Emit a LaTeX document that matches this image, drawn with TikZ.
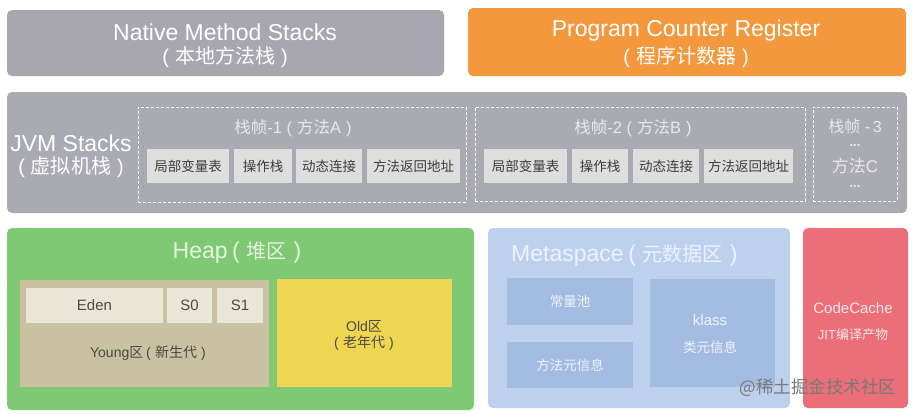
\documentclass[tikz,border=0pt]{standalone}
\usepackage{fontspec}
\setmainfont{Liberation Sans}
\newfontfamily\cjk{Noto Sans CJK SC}
\usetikzlibrary{fit}
\definecolor{natgray}{HTML}{A8A7AF}
\definecolor{jvmgray}{HTML}{AAAAB2}
\definecolor{cellgray}{HTML}{DEDEDE}
\definecolor{pcorange}{HTML}{F4983E}
\definecolor{heapgreen}{HTML}{7FC874}
\definecolor{youngtan}{HTML}{C9C1A2}
\definecolor{edenlight}{HTML}{E9E5D7}
\definecolor{oldyellow}{HTML}{EFD652}
\definecolor{metablue}{HTML}{BDD0EE}
\definecolor{metacell}{HTML}{A4BBE2}
\definecolor{codered}{HTML}{EB6E78}
\definecolor{celltext}{HTML}{3C3C3C}
\definecolor{frametext}{HTML}{E8E8EC}
\definecolor{youngtext}{HTML}{4A4A42}
\definecolor{heaptitle}{HTML}{E6F6DE}
\definecolor{metatext}{HTML}{EEF3FB}
\definecolor{codetext}{HTML}{FCE8EA}
\definecolor{marktext}{HTML}{7A7A7A}
\newcommand{\pcj}[1]{(\hspace{0.3em}{\cjk #1}\hspace{0.3em})}
\begin{document}
\begin{tikzpicture}[x=1pt,y=-1pt,
  region/.style={rounded corners=5pt, inner sep=0pt, draw=none},
  cell/.style={inner sep=0pt, draw=none},
  dashframe/.style={draw=white, dashed, dash pattern=on 3pt off 2pt, line width=0.9pt, inner sep=0pt},
  bigtext/.style={text=white, font=\fontsize{23}{25}\selectfont, align=center, inner sep=0pt},
  cjkbig/.style={text=white, font=\fontsize{20}{25}\selectfont, align=center, inner sep=0pt},
  frametitle/.style={text=frametext, font=\fontsize{16.5}{18}\selectfont, inner sep=0pt},
  celllabel/.style={text=celltext, font=\cjk\fontsize{13.5}{15}\selectfont, inner sep=0pt},
  heaplabel/.style={text=youngtext, font=\fontsize{15}{17}\selectfont, inner sep=0pt},
  metalabel/.style={text=metatext, font=\cjk\fontsize{13.5}{15}\selectfont, inner sep=0pt},
  codelabel/.style={text=codetext, font=\fontsize{15}{17}\selectfont, inner sep=0pt}
]
\useasboundingbox (0,0) rectangle (912,413);
\fill[white] (0,0) rectangle (912,413);

% Native Method Stacks
\node[region, fill=natgray, fit={(7,10) (444,76)}] (native) {};
\node[bigtext] (nativeT1) at (225,32) {Native Method Stacks};
\node[cjkbig] (nativeT2) at (225,57) {\pcj{本地方法栈}};

% Program Counter Register
\node[region, fill=pcorange, fit={(468,8) (906,76)}] (pc) {};
\node[bigtext] (pcT1) at (686,31) {Program Counter Register};
\node[cjkbig] (pcT2) at (686,57) {\pcj{程序计数器}};

% JVM Stacks
\node[region, fill=jvmgray, fit={(7,92) (907,213)}] (jvm) {};
\node[bigtext] (jvmT1) at (71,143) {JVM Stacks};
\node[cjkbig] (jvmT2) at (71,167) {\pcj{虚拟机栈}};

% Frame 1
\node[dashframe, fit={(138,107) (466,202)}] (f1) {};
\node[frametitle] (f1T) at (293,128) {{\cjk 栈帧}-1 (\hspace{0.3em}{\cjk 方法}A\hspace{0.3em})};
\node[cell, fill=cellgray, fit={(147,149) (229,183)}] (f1a) {};
\node[celllabel] at (f1a.center) {局部变量表};
\node[cell, fill=cellgray, fit={(234,149) (292,183)}] (f1b) {};
\node[celllabel] at (f1b.center) {操作栈};
\node[cell, fill=cellgray, fit={(296,149) (362,183)}] (f1c) {};
\node[celllabel] at (f1c.center) {动态连接};
\node[cell, fill=cellgray, fit={(367,149) (460,183)}] (f1d) {};
\node[celllabel] at (f1d.center) {方法返回地址};

% Frame 2
\node[dashframe, fit={(475,107) (805,201)}] (f2) {};
\node[frametitle] (f2T) at (633,128) {{\cjk 栈帧}-2 (\hspace{0.3em}{\cjk 方法}B\hspace{0.3em})};
\node[cell, fill=cellgray, fit={(484,149) (567,183)}] (f2a) {};
\node[celllabel] at (f2a.center) {局部变量表};
\node[cell, fill=cellgray, fit={(572,149) (628,183)}] (f2b) {};
\node[celllabel] at (f2b.center) {操作栈};
\node[cell, fill=cellgray, fit={(633,149) (699,183)}] (f2c) {};
\node[celllabel] at (f2c.center) {动态连接};
\node[cell, fill=cellgray, fit={(704,149) (793,183)}] (f2d) {};
\node[celllabel] at (f2d.center) {方法返回地址};

% Frame 3
\node[dashframe, fit={(813,107) (897,201)}] (f3) {};
\node[frametitle, font=\fontsize{16}{17}\selectfont] (f3T) at (855,126) {{\cjk 栈帧} -\,3};
\node[frametitle, font=\bfseries\fontsize{13}{14}\selectfont] (f3d1) at (855,146) {...};
\node[frametitle, font=\fontsize{17}{18}\selectfont] (f3m) at (855,166) {{\cjk 方法}C};
\node[frametitle, font=\bfseries\fontsize{13}{14}\selectfont] (f3d2) at (855,187) {...};

% Heap
\node[region, fill=heapgreen, fit={(7,228) (474,410)}] (heap) {};
\node[bigtext, text=heaptitle] (heapT) at (237,253) {Heap\hspace{0.2em}(\hspace{0.3em}{\cjk\fontsize{20}{22}\selectfont 堆区}\hspace{0.3em})};
\node[cell, fill=youngtan, fit={(20,280) (269,387)}] (young) {};
\node[cell, fill=edenlight, fit={(26,288) (163,323)}] (eden) {};
\node[heaplabel] at (eden.center) {Eden};
\node[cell, fill=edenlight, fit={(167,288) (212,323)}] (s0) {};
\node[heaplabel] at (s0.center) {S0};
\node[cell, fill=edenlight, fit={(217,288) (263,323)}] (s1) {};
\node[heaplabel] at (s1.center) {S1};
\node[heaplabel, font=\fontsize{14}{16}\selectfont] (youngT) at (148,353) {Young{\cjk 区}\hspace{0.2em}\pcj{新生代}};
\node[cell, fill=oldyellow, fit={(277,279) (452,387)}] (old) {};
\node[heaplabel, font=\fontsize{14}{16}\selectfont] (oldT1) at (364,326) {Old{\cjk 区}};
\node[heaplabel, font=\fontsize{14}{16}\selectfont] (oldT2) at (364,343) {\pcj{老年代}};

% Metaspace
\node[region, fill=metablue, fit={(488,228) (790,408)}] (meta) {};
\node[bigtext, text=metatext, anchor=west] (metaT) at (511,255) {Metaspace\hspace{0.2em}(\hspace{0.3em}{\cjk\fontsize{20}{22}\selectfont 元数据区}\hspace{0.3em})};
\node[cell, fill=metacell, fit={(507,278) (633,325)}] (pool) {};
\node[metalabel] at (pool.center) {常量池};
\node[cell, fill=metacell, fit={(507,342) (633,388)}] (minfo) {};
\node[metalabel] at (minfo.center) {方法元信息};
\node[cell, fill=metacell, fit={(650,279) (775,387)}] (klass) {};
\node[metalabel, font=\fontsize{15}{17}\selectfont] (klassT1) at (710,320) {klass};
\node[metalabel] (klassT2) at (710,347) {类元信息};

% CodeCache
\node[region, fill=codered, fit={(803,228) (908,408)}] (code) {};
\node[codelabel] (codeT1) at (853,308) {CodeCache};
\node[codelabel, font=\fontsize{13}{15}\selectfont] (codeT2) at (853,335) {JIT{\cjk 编译产物}};

% watermark
\node[text=marktext, font=\cjk\fontsize{17.5}{19}\selectfont, inner sep=0pt] (mark) at (818,388) {@稀土掘金技术社区};
\end{tikzpicture}
\end{document}
